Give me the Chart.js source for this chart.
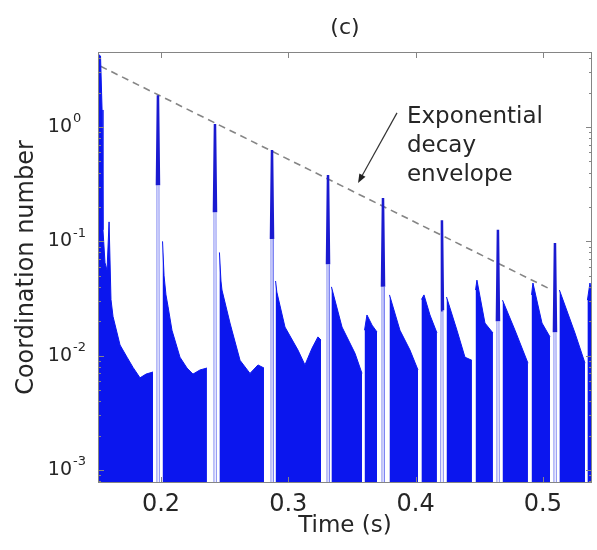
<!DOCTYPE html>
<html>
<head>
<meta charset="utf-8">
<script src="https://cdn.jsdelivr.net/npm/chart.js@4.4.0/dist/chart.umd.min.js"></script>
<style>
    html, body { margin: 0; padding: 0; background: #fff; }
    canvas { display: block; }
</style>
</head>
<body>
<canvas id="chartCoordination" width="597" height="550"></canvas>
<script>
// signal envelope (time in s, coordination number); null splits the blocks
const signalTime = [
    0.1505, 0.1525, 0.1537, 0.1544, 0.1560, 0.1576, 0.1592, 0.1607, 0.1623, 0.1678, 0.1733, 0.1780, 0.1835, 0.1882, 0.1937, null,
    0.2012, 0.2024, 0.2039, 0.2055, 0.2086, 0.2149, 0.2204, 0.2251, 0.2306, 0.2361, null,
    0.2459, 0.2471, 0.2479, 0.2542, 0.2621, 0.2699, 0.2762, 0.2809, null,
    0.2900, 0.2910, 0.2974, 0.3076, 0.3131, 0.3186, 0.3233, 0.3257, null,
    0.3339, 0.3422, 0.3524, 0.3579, null,
    0.3599, 0.3618, 0.3658, 0.3697, null,
    0.3795, 0.3877, 0.3956, 0.4019, null,
    0.4046, 0.4066, 0.4113, 0.4168, null,
    0.4243, 0.4325, 0.4388, 0.4443, null,
    0.4471, 0.4482, 0.4545, 0.4608, null,
    0.4683, 0.4781, 0.4883, null,
    0.4911, 0.4922, 0.4993, 0.5056, null,
    0.5130, 0.5252, 0.5331, null,
    0.5350, 0.5370, 0.5386, 0.5400
];
const signalValue = [
    4.35, 4.18, 1.41, 0.126, 0.065, 0.056, 0.148, 0.031, 0.022, 0.0124, 0.0097, 0.0079, 0.0064, 0.0069, 0.0072, null,
    0.10, 0.05, 0.034, 0.027, 0.0167, 0.0097, 0.0078, 0.0069, 0.0075, 0.0078, null,
    0.08, 0.045, 0.0375, 0.0193, 0.0091, 0.0070, 0.0083, 0.0078, null,
    0.045, 0.036, 0.0178, 0.0112, 0.0083, 0.0116, 0.0146, 0.0137, null,
    0.040, 0.0178, 0.0105, 0.0070, null,
    0.0167, 0.0227, 0.0185, 0.0161, null,
    0.034, 0.0167, 0.0112, 0.0075, null,
    0.031, 0.034, 0.0227, 0.0158, null,
    0.0326, 0.0167, 0.0097, 0.0091, null,
    0.0375, 0.0458, 0.0193, 0.0158, null,
    0.0306, 0.0167, 0.0086, null,
    0.034, 0.0432, 0.0193, 0.0146, null,
    0.0375, 0.0158, 0.0086, null,
    0.0306, 0.0432, 0.034, 0.033
];

// impact peaks (foot, shoulder, top, shoulder, foot)
const peakTime = [
    0.1965, 0.1968, 0.1976, 0.1984, 0.1987, null,
    0.2413, 0.2416, 0.2424, 0.2432, 0.2435, null,
    0.2861, 0.2864, 0.2872, 0.2880, 0.2883, null,
    0.3301, 0.3304, 0.3312, 0.3320, 0.3323, null,
    0.3733, 0.3736, 0.3744, 0.3752, 0.3755, null,
    0.4197, 0.4200, 0.4207, 0.4215, 0.4218, null,
    0.4636, 0.4639, 0.4647, 0.4655, 0.4658, null,
    0.5084, 0.5087, 0.5095, 0.5103, 0.5106
];
const peakValue = [
    0.0007, 0.31, 1.9, 0.31, 0.0007, null,
    0.0007, 0.18, 1.06, 0.18, 0.0007, null,
    0.0007, 0.105, 0.63, 0.105, 0.0007, null,
    0.0007, 0.063, 0.38, 0.063, 0.0007, null,
    0.0007, 0.04, 0.239, 0.04, 0.0007, null,
    0.0007, 0.025, 0.153, 0.025, 0.0007, null,
    0.0007, 0.02, 0.126, 0.02, 0.0007, null,
    0.0007, 0.016, 0.0966, 0.016, 0.0007
];

// exponential decay envelope
const envelopeTime = [0.1525, 0.5072];
const envelopeValue = [3.4, 0.0375];

const xTicks = [0.2, 0.3, 0.4, 0.5];
const yDecades = [-3, -2, -1, 0];
const noteLines = ["Exponential", "decay", "envelope"];

const FONT = '"DejaVu Sans", "Liberation Sans", sans-serif';
const TEXT_COLOR = "#262626";
const BLUE = "#0b16ee";

function toPoints(times, values) {
    let last = times[0];
    return times.map((t, i) => {
        if (t === null) return { x: last, y: null };
        last = t;
        return { x: t, y: values[i] };
    });
}

// thin faint stem below the shoulders, thick core near the top
function isStem(c) {
    return c.p0.parsed.y < 0.001 || c.p1.parsed.y < 0.001;
}

const framePlugin = {
    id: "frame",
    afterDatasetsDraw(chart) {
        const { ctx, chartArea: a, scales } = chart;
        const x = scales.x, y = scales.y;
        ctx.save();

        // box
        ctx.strokeStyle = "#858585";
        ctx.lineWidth = 1;
        ctx.strokeRect(a.left + 0.5, a.top + 0.5, a.right - a.left - 1, a.bottom - a.top - 1);

        // inward ticks
        ctx.beginPath();
        xTicks.forEach(v => {
            const px = Math.round(x.getPixelForValue(v)) + 0.5;
            ctx.moveTo(px, a.bottom); ctx.lineTo(px, a.bottom - 6);
            ctx.moveTo(px, a.top); ctx.lineTo(px, a.top + 6);
        });
        for (let k = -4; k <= 0; k++) {
            for (let m = 1; m <= 9; m++) {
                const v = m * Math.pow(10, k);
                if (v < y.min || v > y.max) continue;
                const py = Math.round(y.getPixelForValue(v)) + 0.5;
                const len = m === 1 ? 6 : 3;
                ctx.moveTo(a.left, py); ctx.lineTo(a.left + len, py);
                ctx.moveTo(a.right, py); ctx.lineTo(a.right - len, py);
            }
        }
        ctx.stroke();

        // y tick labels 10^k
        ctx.fillStyle = TEXT_COLOR;
        yDecades.forEach(k => {
            const py = y.getPixelForValue(Math.pow(10, k));
            ctx.font = "19px " + FONT;
            ctx.textAlign = "right";
            ctx.textBaseline = "middle";
            ctx.fillText("10", a.left - 26, py);
            ctx.font = "13px " + FONT;
            ctx.textAlign = "left";
            ctx.fillText(String(k), a.left - 25, py - 8);
        });

        // title
        ctx.font = "22px " + FONT;
        ctx.textAlign = "center";
        ctx.textBaseline = "middle";
        ctx.fillText("(c)", (a.left + a.right) / 2, a.top - 24);

        // annotation text
        ctx.font = "23px " + FONT;
        ctx.textAlign = "left";
        ctx.textBaseline = "alphabetic";
        const tx = x.getPixelForValue(0.3932);
        const ty = y.getPixelForValue(1.08);
        noteLines.forEach((s, i) => ctx.fillText(s, tx, ty + i * 29));

        // arrow
        const x0 = x.getPixelForValue(0.3854), y0 = y.getPixelForValue(1.33);
        const x1 = x.getPixelForValue(0.3548), y1 = y.getPixelForValue(0.324);
        const ang = Math.atan2(y1 - y0, x1 - x0);
        ctx.strokeStyle = "#333";
        ctx.lineWidth = 1.2;
        ctx.beginPath();
        ctx.moveTo(x0, y0);
        ctx.lineTo(x1 - 8 * Math.cos(ang), y1 - 8 * Math.sin(ang));
        ctx.stroke();
        ctx.fillStyle = "#222";
        ctx.beginPath();
        ctx.moveTo(x1, y1);
        ctx.lineTo(x1 - 9 * Math.cos(ang) + 3.5 * Math.sin(ang), y1 - 9 * Math.sin(ang) - 3.5 * Math.cos(ang));
        ctx.lineTo(x1 - 9 * Math.cos(ang) - 3.5 * Math.sin(ang), y1 - 9 * Math.sin(ang) + 3.5 * Math.cos(ang));
        ctx.closePath();
        ctx.fill();

        ctx.restore();
    }
};

let chartCoordination = null;

function buildChart() {
    const ctx = document.getElementById("chartCoordination");

    chartCoordination = new Chart(ctx, {
        type: "line",
        data: {
            datasets: [
                {
                    data: toPoints(signalTime, signalValue),
                    borderColor: BLUE,
                    backgroundColor: BLUE,
                    borderWidth: 1,
                    fill: "start",
                    spanGaps: false,
                    pointRadius: 0,
                    tension: 0
                },
                {
                    data: toPoints(peakTime, peakValue),
                    borderColor: "#1a1ad0",
                    borderWidth: 2.5,
                    segment: {
                        borderWidth: c => isStem(c) ? 1 : 2.5,
                        borderColor: c => isStem(c) ? "#7f86f2" : "#1a1ad0"
                    },
                    fill: false,
                    spanGaps: false,
                    pointRadius: 0,
                    tension: 0
                },
                {
                    data: toPoints(envelopeTime, envelopeValue),
                    borderColor: "#858585",
                    borderWidth: 1.6,
                    borderDash: [7, 5],
                    fill: false,
                    pointRadius: 0
                }
            ]
        },
        options: {
            responsive: false,
            animation: false,
            devicePixelRatio: 1,
            layout: { padding: { top: 52, right: 5, left: 0, bottom: 0 } },
            plugins: {
                legend: { display: false },
                tooltip: { enabled: false },
                title: { display: false }
            },
            scales: {
                x: {
                    type: "linear",
                    min: 0.1505,
                    max: 0.5386,
                    grid: { display: false, drawTicks: false },
                    border: { display: false },
                    afterBuildTicks: s => { s.ticks = xTicks.map(v => ({ value: v })); },
                    afterFit: s => { s.height = 67; },
                    ticks: {
                        autoSkip: false,
                        maxRotation: 0,
                        padding: 7,
                        color: TEXT_COLOR,
                        font: { family: FONT, size: 24 },
                        callback: v => v.toFixed(1)
                    },
                    title: {
                        display: true,
                        text: "Time (s)",
                        color: TEXT_COLOR,
                        font: { family: FONT, size: 23 },
                        padding: { top: 0, bottom: 10 }
                    }
                },
                y: {
                    type: "logarithmic",
                    min: 0.00077,
                    max: 4.53,
                    grid: { display: false, drawTicks: false },
                    border: { display: false },
                    ticks: { display: false },
                    afterFit: s => { s.width = 98; },
                    title: {
                        display: true,
                        text: "Coordination number",
                        color: TEXT_COLOR,
                        font: { family: FONT, size: 24 },
                        padding: { top: 12, bottom: 0 }
                    }
                }
            }
        },
        plugins: [framePlugin]
    });
}

buildChart();
</script>
</body>
</html>
